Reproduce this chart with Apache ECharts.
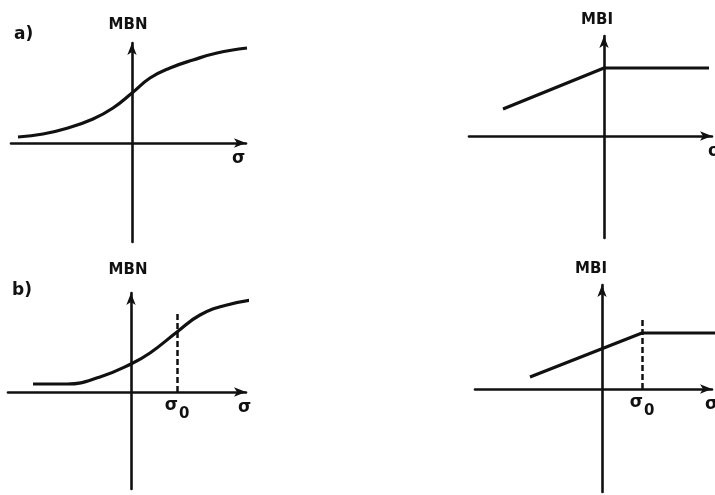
<!DOCTYPE html>
<html>
<head>
<meta charset="utf-8">
<script src="https://cdn.jsdelivr.net/npm/echarts@6/dist/echarts.min.js"></script>
<style>
html,body{margin:0;padding:0;background:#fff;}
#c{width:715px;height:495px;}
</style>
</head>
<body>
<div id="c"></div>
<script>
// ---- data (arbitrary units, 0 = axis crossing) ----
const aLeftX  = [-11.4, -8.9, -6.4, -3.9, -1.9, 0, 1.8, 3.8, 6.1, 8.5, 11.5];
const aLeftY  = [0.6, 0.9, 1.5, 2.4, 3.5, 5.0, 6.5, 7.5, 8.3, 9.0, 9.5];
const aRightX = [-10.1, 0, 10.5];
const aRightY = [2.7, 6.8, 6.8];
const bLeftX  = [-9.8, -6.4, -3.1, 0, 1.9, 4.6, 6.9, 9.6, 12.9];
const bLeftY  = [0.8, 0.8, 1.5, 2.8, 3.9, 6.0, 7.7, 8.7, 9.3];
const bRightX = [-7.2, 4.0, 11.3];
const bRightY = [1.2, 5.6, 5.6];
const sigma0  = [4.6, 4.0];      // sigma_0 position (b-left, b-right)
const dashTop = [8.0, 7.0];      // top of dashed marker
const yNames  = ['MBN', 'MBI', 'MBN', 'MBI'];
const xNames  = ['σ', 'σ', 'σ', 'σ'];
const panelTags = ['a)', 'b)'];

// ---- layout ----
const PX = 10; // pixels per unit
const layout = [
  {o: [132, 143], x: [-12.1, 11.4], y: [-9.9, 10.0], yGap: 10, yPadR: 8,  xGap: -14, xDown: 7},
  {o: [604, 136], x: [-13.5, 10.8], y: [-10.2, 10.0], yGap: 8,  yPadR: 14, xGap: -4,  xDown: 7},
  {o: [131, 392], x: [-12.3, 11.5], y: [-9.7, 9.9],  yGap: 15, yPadR: 6,  xGap: -8,  xDown: 7},
  {o: [602, 389], x: [-12.7, 11.0], y: [-10.3, 10.4], yGap: 8,  yPadR: 22, xGap: -7,  xDown: 7}
];
const INK = '#111';
const FONT = 'DejaVu Sans';

const grids = layout.map(l => ({
  left: l.o[0] + l.x[0] * PX,
  top: l.o[1] - l.y[1] * PX,
  width: (l.x[1] - l.x[0]) * PX,
  height: (l.y[1] - l.y[0]) * PX,
  containLabel: false,
  outerBoundsMode: 'none'
}));

const axisLine = {
  onZero: true,
  symbol: ['none', 'arrow'],
  symbolSize: [7, 12],
  lineStyle: {color: INK, width: 2.6}
};

const xAxes = layout.map((l, i) => ({
  type: 'value', gridIndex: i, min: l.x[0], max: l.x[1],
  axisLine: axisLine, axisTick: {show: false}, axisLabel: {show: false}, splitLine: {show: false},
  name: xNames[i], nameLocation: 'end', nameGap: l.xGap,
  nameTextStyle: {fontFamily: FONT, fontWeight: 'bold', fontSize: 17, color: INK,
    verticalAlign: 'top', padding: [l.xDown, 0, 0, 0]}
}));
const yAxes = layout.map((l, i) => ({
  type: 'value', gridIndex: i, min: l.y[0], max: l.y[1],
  axisLine: axisLine, axisTick: {show: false}, axisLabel: {show: false}, splitLine: {show: false},
  name: yNames[i], nameLocation: 'end', nameGap: l.yGap,
  nameTextStyle: {fontFamily: FONT, fontWeight: 'bold', fontSize: 15, color: INK,
    padding: [0, l.yPadR, 0, 0]}
}));

function pairs(xs, ys) { return xs.map((x, k) => [x, ys[k]]); }

const lineStyle = {color: INK, width: 3.2};
function markerLine(xv, top) {
  return {
    silent: true, symbol: ['none', 'none'],
    lineStyle: {color: INK, width: 2.5, type: [6, 3]},
    label: {
      show: true, position: 'start', distance: 5,
      formatter: '{s|σ}{b|0}',
      rich: {
        s: {fontFamily: FONT, fontWeight: 'bold', fontSize: 17, color: INK, verticalAlign: 'top', lineHeight: 16},
        b: {fontFamily: FONT, fontWeight: 'bold', fontSize: 15, color: INK, lineHeight: 34, padding: [0, 0, 0, 1]}
      }
    },
    data: [[{coord: [xv, 0]}, {coord: [xv, top]}]]
  };
}

const curveCommon = {showSymbol: false, clip: false, lineStyle: lineStyle};
const series = [
  Object.assign({type: 'line', xAxisIndex: 0, yAxisIndex: 0, data: pairs(aLeftX, aLeftY), smooth: 0.45}, curveCommon),
  Object.assign({type: 'line', xAxisIndex: 1, yAxisIndex: 1, data: pairs(aRightX, aRightY)}, curveCommon),
  Object.assign({type: 'line', xAxisIndex: 2, yAxisIndex: 2, data: pairs(bLeftX, bLeftY), smooth: 0.45,
    markLine: markerLine(sigma0[0], dashTop[0])}, curveCommon),
  Object.assign({type: 'line', xAxisIndex: 3, yAxisIndex: 3, data: pairs(bRightX, bRightY),
    markLine: markerLine(sigma0[1], dashTop[1])}, curveCommon)
];

const chart = echarts.init(document.getElementById('c'), null, {renderer: 'canvas'});
chart.setOption({
  animation: false,
  backgroundColor: '#fff',
  title: [
    {text: panelTags[0], left: 14, top: 26, textStyle: {fontFamily: FONT, fontWeight: 'bold', fontSize: 17, color: INK}, padding: 0},
    {text: panelTags[1], left: 12, top: 282, textStyle: {fontFamily: FONT, fontWeight: 'bold', fontSize: 17, color: INK}, padding: 0}
  ],
  grid: grids,
  xAxis: xAxes,
  yAxis: yAxes,
  series: series
});
</script>
</body>
</html>
